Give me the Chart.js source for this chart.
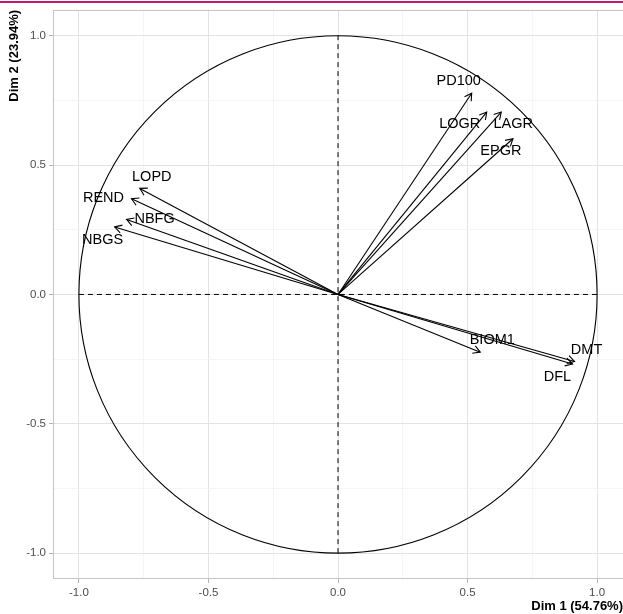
<!DOCTYPE html>
<html>
<head>
<meta charset="utf-8">
<script src="https://cdn.jsdelivr.net/npm/chart.js@4/dist/chart.umd.min.js"></script>
<style>
  html, body { margin: 0; padding: 0; background: #ffffff; }
  #wrap { position: relative; width: 623px; height: 614px; }
  canvas { display: block; }
</style>
</head>
<body>
<div id="wrap"><canvas id="c" width="623" height="614"></canvas></div>
<script>
// ---- data ----
const varNames = ['PD100', 'LOGR', 'LAGR', 'EPGR', 'LOPD', 'REND', 'NBFG', 'NBGS', 'BIOM1', 'DMT', 'DFL'];
const dim1 = [0.516, 0.574, 0.630, 0.675, -0.765, -0.797, -0.816, -0.862, 0.549, 0.913, 0.905];
const dim2 = [0.778, 0.705, 0.705, 0.602, 0.410, 0.370, 0.290, 0.261, -0.223, -0.259, -0.269];
const majorTicks = [-1, -0.5, 0, 0.5, 1];
const minorTicks = [-0.75, -0.25, 0.25, 0.75];
const xTitle = 'Dim 1 (54.76%)';
const yTitle = 'Dim 2 (23.94%)';

// ---- label placement (pixel offsets from arrow tip) ----
const labelOffsets = {
  PD100: [-13, -12], LOGR: [-27, 12], LAGR: [12, 12], EPGR: [-12, 12],
  LOPD: [12, -11], REND: [-28, -1], NBFG: [28, 0], NBGS: [-12, 13],
  BIOM1: [12, -12], DMT: [12, -11], DFL: [-15, 13]
};

const FONT = '"Liberation Sans", Arial, Helvetica, sans-serif';

const allTicks = majorTicks.concat(minorTicks).sort((a, b) => a - b);
const isMinor = v => minorTicks.some(m => Math.abs(m - v) < 1e-9);

const datasets = [];
// reference dashed axes
datasets.push({
  type: 'scatter', data: [{x: -1, y: 0}, {x: 1, y: 0}], showLine: true,
  borderColor: '#000000', borderWidth: 1, borderDash: [5, 4], pointRadius: 0, isRef: true
});
datasets.push({
  type: 'scatter', data: [{x: 0, y: -1}, {x: 0, y: 1}], showLine: true,
  borderColor: '#000000', borderWidth: 1, borderDash: [5, 4], pointRadius: 0, isRef: true
});
// arrows
varNames.forEach((n, i) => {
  datasets.push({
    type: 'scatter', label: n, data: [{x: 0, y: 0}, {x: dim1[i], y: dim2[i]}],
    showLine: true, borderColor: '#000000', borderWidth: 1.1, pointRadius: 0, isArrow: true
  });
});

const panelPlugin = {
  id: 'panel',
  beforeDraw(chart) {
    const ctx = chart.ctx;
    ctx.save();
    ctx.fillStyle = '#c2186e';
    ctx.fillRect(0, 1, chart.width, 2);
    ctx.restore();
  },
  beforeDatasetsDraw(chart) {
    const {ctx, chartArea: a, scales: {x, y}} = chart;
    ctx.save();
    // panel border
    ctx.strokeStyle = '#c4c4c4';
    ctx.lineWidth = 1;
    ctx.strokeRect(a.left + 0.5, a.top + 0.5, a.right - a.left, a.bottom - a.top - 1);
    // unit circle through the scales
    const cx = x.getPixelForValue(0), cy = y.getPixelForValue(0);
    const rx = x.getPixelForValue(1) - cx, ry = cy - y.getPixelForValue(1);
    ctx.beginPath();
    ctx.ellipse(cx, cy, rx, ry, 0, 0, Math.PI * 2);
    ctx.strokeStyle = '#000000';
    ctx.lineWidth = 1.1;
    ctx.stroke();
    ctx.restore();
  },
  afterDatasetsDraw(chart) {
    const ctx = chart.ctx;
    ctx.save();
    chart.data.datasets.forEach((ds, di) => {
      if (!ds.isArrow) return;
      const meta = chart.getDatasetMeta(di);
      const p0 = meta.data[0], p1 = meta.data[1];
      const ang = Math.atan2(p1.y - p0.y, p1.x - p0.x);
      const L = 8, half = Math.PI / 6;
      ctx.beginPath();
      ctx.moveTo(p1.x - L * Math.cos(ang - half), p1.y - L * Math.sin(ang - half));
      ctx.lineTo(p1.x, p1.y);
      ctx.lineTo(p1.x - L * Math.cos(ang + half), p1.y - L * Math.sin(ang + half));
      ctx.strokeStyle = '#000000';
      ctx.lineWidth = 1.1;
      ctx.stroke();
    });
    // labels
    ctx.font = '14.5px ' + FONT;
    ctx.fillStyle = '#000000';
    ctx.textAlign = 'center';
    ctx.textBaseline = 'middle';
    chart.data.datasets.forEach((ds, di) => {
      if (!ds.isArrow) return;
      const meta = chart.getDatasetMeta(di);
      const p1 = meta.data[1];
      const off = labelOffsets[ds.label] || [0, 0];
      ctx.fillText(ds.label, p1.x + off[0], p1.y + off[1]);
    });
    ctx.restore();
  }
};

function axisOpts(titleText, isY) {
  return {
    type: 'linear',
    min: -1.1,
    max: 1.1,
    afterBuildTicks(scale) { scale.ticks = allTicks.map(v => ({value: v})); },
    afterFit(scale) {
      if (isY) scale.width = 53; else scale.height = 35;
    },
    ticks: {
      autoSkip: false,
      maxRotation: 0,
      padding: 3,
      color: '#4d4d4d',
      font: {family: FONT, size: 11.5},
      callback: v => isMinor(v) ? '' : Number(v).toFixed(1)
    },
    grid: {
      color: c => (c.tick && isMinor(c.tick.value)) ? '#f3f3f3' : '#e3e3e3',
      lineWidth: c => (c.tick && isMinor(c.tick.value)) ? 0.8 : 1,
      tickColor: c => (c.tick && isMinor(c.tick.value)) ? 'rgba(0,0,0,0)' : '#b3b3b3',
      tickLength: 4,
      drawTicks: true
    },
    border: {display: false},
    title: {
      display: true,
      text: titleText,
      align: 'end',
      color: '#000000',
      font: {family: FONT, size: 13, weight: 'bold'},
      padding: isY ? {top: 7, bottom: 0} : {top: 0, bottom: 0}
    }
  };
}

new Chart(document.getElementById('c'), {
  type: 'scatter',
  data: {datasets},
  options: {
    responsive: false,
    devicePixelRatio: 1,
    animation: false,
    layout: {padding: {top: 9, right: 0, left: 0, bottom: 0}},
    plugins: {legend: {display: false}, tooltip: {enabled: false}},
    scales: {
      x: axisOpts(xTitle, false),
      y: axisOpts(yTitle, true)
    }
  },
  plugins: [panelPlugin]
});
</script>
</body>
</html>
